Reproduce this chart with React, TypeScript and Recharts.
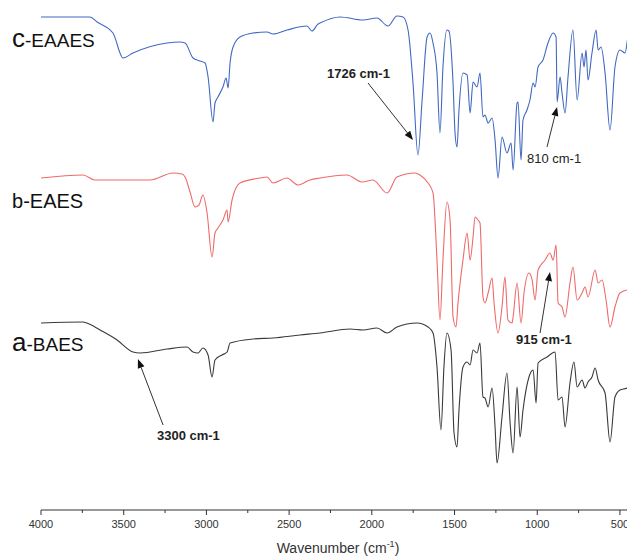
import React from "react";
import { LineChart, Line, XAxis, YAxis, ReferenceDot, ReferenceLine } from "recharts";

// Wavenumber (cm-1), relative transmittance (offset per trace)
const EAAES: [number, number][] = [
  [4000, 493], [3704, 493], [3661, 488], [3565, 477], [3504, 452], [3444, 457], [3238, 467], [3160, 468],
  [3129, 467], [3081, 452], [3039, 449], [3008, 447], [2990, 433], [2960, 388], [2948, 407], [2930, 413],
  [2900, 423], [2881, 432], [2869, 422], [2857, 447], [2839, 463], [2797, 473], [2718, 477], [2634, 478],
  [2597, 476], [2513, 480], [2392, 484], [2362, 479], [2325, 486], [2313, 487], [2192, 493], [2053, 490],
  [1969, 492], [1902, 484], [1848, 494], [1811, 493], [1781, 480], [1751, 427], [1721, 355], [1696, 410],
  [1666, 473], [1648, 477], [1630, 467], [1606, 437], [1588, 377], [1570, 443], [1546, 480], [1534, 479],
  [1509, 427], [1497, 377], [1485, 363], [1473, 400], [1449, 437], [1424, 435], [1406, 397], [1388, 428],
  [1364, 423], [1346, 437], [1328, 393], [1316, 395], [1297, 387], [1273, 392], [1255, 370], [1237, 332],
  [1213, 373], [1183, 357], [1158, 367], [1146, 340], [1122, 407], [1116, 408], [1098, 350], [1086, 390],
  [1062, 400], [1044, 410], [1025, 427], [1013, 423], [995, 443], [965, 450], [935, 467], [904, 477],
  [886, 473], [880, 408], [862, 433], [850, 417], [832, 397], [814, 433], [784, 480], [759, 410],
  [729, 457], [717, 443], [705, 460], [693, 430], [669, 457], [644, 480], [632, 460], [614, 463],
  [590, 437], [560, 380], [530, 443], [500, 460], [469, 457], [451, 473], [421, 480], [409, 482],
];

const EAES: [number, number][] = [
  [4000, 332], [3746, 335], [3674, 330], [3341, 330], [3202, 337], [3148, 336], [3129, 333], [3099, 318],
  [3069, 303], [3045, 305], [3021, 315], [2996, 297], [2966, 253], [2948, 277], [2930, 282], [2900, 290],
  [2875, 300], [2869, 288], [2845, 310], [2797, 327], [2676, 332], [2634, 333], [2597, 327], [2513, 332],
  [2446, 325], [2374, 330], [2313, 332], [2150, 335], [2059, 328], [1993, 330], [1908, 317], [1848, 333],
  [1739, 337], [1709, 335], [1660, 327], [1630, 317], [1606, 250], [1588, 190], [1570, 250], [1546, 308],
  [1527, 290], [1509, 193], [1491, 183], [1479, 207], [1449, 250], [1424, 277], [1406, 250], [1388, 273],
  [1376, 293], [1358, 290], [1346, 287], [1328, 213], [1316, 207], [1297, 217], [1273, 232], [1261, 207],
  [1237, 177], [1213, 203], [1195, 233], [1177, 190], [1152, 187], [1146, 193], [1122, 227], [1098, 187],
  [1080, 217], [1050, 237], [1031, 230], [1013, 210], [995, 240], [953, 250], [923, 257], [904, 250],
  [886, 265], [874, 207], [850, 203], [832, 193], [802, 227], [784, 243], [759, 210], [729, 217],
  [711, 223], [693, 213], [650, 240], [632, 227], [608, 230], [584, 210], [560, 183], [530, 203],
  [500, 217], [451, 220], [409, 217],
];

const BAES: [number, number][] = [
  [4000, 187], [3746, 188], [3722, 187], [3643, 180], [3540, 170], [3444, 158], [3401, 157], [3238, 161],
  [3117, 163], [3081, 158], [3051, 157], [3021, 162], [2990, 155], [2966, 133], [2948, 150], [2906, 155],
  [2875, 158], [2857, 167], [2718, 171], [2597, 172], [2434, 175], [2313, 177], [2132, 181], [2053, 180],
  [1969, 182], [1908, 177], [1848, 183], [1727, 187], [1660, 183], [1630, 177], [1606, 143], [1582, 80],
  [1564, 143], [1546, 177], [1521, 160], [1503, 77], [1485, 63], [1473, 100], [1449, 143], [1424, 148],
  [1406, 145], [1388, 160], [1364, 157], [1346, 167], [1328, 113], [1316, 112], [1297, 103], [1273, 122],
  [1255, 83], [1243, 47], [1213, 93], [1183, 137], [1164, 87], [1146, 57], [1122, 123], [1104, 73],
  [1086, 100], [1050, 133], [1025, 140], [1007, 107], [995, 147], [941, 153], [892, 158], [874, 110],
  [850, 113], [832, 83], [802, 127], [778, 148], [759, 123], [729, 130], [711, 122], [693, 128],
  [669, 133], [650, 142], [632, 130], [590, 117], [560, 68], [530, 113], [500, 120], [457, 122], [421, 127],
];

const xTicks = [4000, 3750, 3500, 3250, 3000, 2750, 2500, 2250, 2000, 1750, 1500, 1250, 1000, 750, 500];

const toRows = (arr: [number, number][]) => arr.map(([wn, t]) => ({ wn, t }));

const FONT = "Arial, 'Liberation Sans', Helvetica, sans-serif";

const renderTick = (props: any) => {
  const { x, y, payload } = props;
  const major = payload.value % 500 === 0;
  return (
    <g>
      <line x1={x} x2={x} y1={y} y2={y + (major ? 5 : 3)} stroke="#333" strokeWidth={1} />
      {major && (
        <text x={x} y={y + 18} textAnchor="middle" fontSize={11} fill="#333" fontFamily={FONT}>
          {payload.value}
        </text>
      )}
    </g>
  );
};

const AxisTitle = (props: any) => {
  const vb = props.viewBox || { x: 0, y: 0, width: 0, height: 0 };
  return (
    <text x={vb.x + vb.width / 2} y={vb.y + 43} textAnchor="middle" fontSize={14} fill="#333" fontFamily={FONT}>
      Wavenumber (cm
      <tspan dy={-6} fontSize={9}>-1</tspan>
      <tspan dy={6}>)</tspan>
    </text>
  );
};

const arrowShape = (props: any) => {
  const { x1, y1, x2, y2 } = props;
  const dx = x2 - x1;
  const dy = y2 - y1;
  const len = Math.sqrt(dx * dx + dy * dy) || 1;
  const ux = dx / len;
  const uy = dy / len;
  const L = 9;
  const W = 3.5;
  const bx = x2 - ux * L;
  const by = y2 - uy * L;
  const pts = `${x2},${y2} ${bx - uy * W},${by + ux * W} ${bx + uy * W},${by - ux * W}`;
  return (
    <g>
      <line x1={x1} y1={y1} x2={bx} y2={by} stroke="#333" strokeWidth={1} />
      <polygon points={pts} fill="#111" />
    </g>
  );
};

type SampleLabel = { big: string; rest: string; wn: number; t: number; bigSize: number; restSize: number };
const sampleLabels: SampleLabel[] = [
  { big: "c", rest: "-EAAES", wn: 4175, t: 463, bigSize: 26, restSize: 19 },
  { big: "b", rest: "-EAES", wn: 4175, t: 302, bigSize: 20, restSize: 20 },
  { big: "a", rest: "-BAES", wn: 4175, t: 159, bigSize: 26, restSize: 19 },
];

type Note = { text: string; bold: boolean; wn: number; t: number; from: [number, number]; to: [number, number] };
const notes: Note[] = [
  { text: "1726 cm-1", bold: true, wn: 2271, t: 432, from: [2023, 427], to: [1751, 370] },
  { text: "810 cm-1", bold: false, wn: 1062, t: 347, from: [941, 363], to: [880, 403] },
  { text: "915 cm-1", bold: true, wn: 1128, t: 166, from: [983, 177], to: [923, 238] },
  { text: "3300 cm-1", bold: true, wn: 3299, t: 70, from: [3262, 85], to: [3414, 151] },
];

export default function App() {
  return (
    <LineChart width={627} height={548} margin={{ top: 2, right: 0, bottom: 0, left: 33 }}>
      <XAxis
        type="number"
        dataKey="wn"
        domain={[409, 4000]}
        reversed
        allowDataOverflow
        ticks={xTicks}
        interval={0}
        tick={renderTick}
        tickLine={false}
        tickSize={0}
        tickMargin={0}
        height={46}
        axisLine={{ stroke: "#333", strokeWidth: 1.2 }}
        label={<AxisTitle />}
      />
      <YAxis type="number" domain={[0, 500]} hide allowDataOverflow />
      <Line data={toRows(BAES)} dataKey="t" type="monotone" stroke="#3a3a3a" strokeWidth={1.1} dot={false} isAnimationActive={false} />
      <Line data={toRows(EAES)} dataKey="t" type="monotone" stroke="#ef6a6a" strokeWidth={1.1} dot={false} isAnimationActive={false} />
      <Line data={toRows(EAAES)} dataKey="t" type="monotone" stroke="#4169c2" strokeWidth={1.1} dot={false} isAnimationActive={false} />
      {notes.map((n) => (
        <ReferenceLine
          key={"arr" + n.text}
          segment={[{ x: n.from[0], y: n.from[1] }, { x: n.to[0], y: n.to[1] }]}
          ifOverflow="visible"
          shape={arrowShape}
        />
      ))}
      {notes.map((n) => (
        <ReferenceDot
          key={"txt" + n.text}
          x={n.wn}
          y={n.t}
          r={0}
          ifOverflow="visible"
          shape={(p: any) => (
            <text x={p.cx} y={p.cy} fontSize={13} fontWeight={n.bold ? "bold" : "normal"} fill="#222" fontFamily={FONT}>
              {n.text}
            </text>
          )}
        />
      ))}
      {sampleLabels.map((s) => (
        <ReferenceDot
          key={s.big + s.rest}
          x={s.wn}
          y={s.t}
          r={0}
          ifOverflow="visible"
          shape={(p: any) => (
            <text x={p.cx} y={p.cy} fill="#111" fontFamily={FONT}>
              <tspan fontSize={s.bigSize}>{s.big}</tspan>
              <tspan fontSize={s.restSize}>{s.rest}</tspan>
            </text>
          )}
        />
      ))}
    </LineChart>
  );
}
